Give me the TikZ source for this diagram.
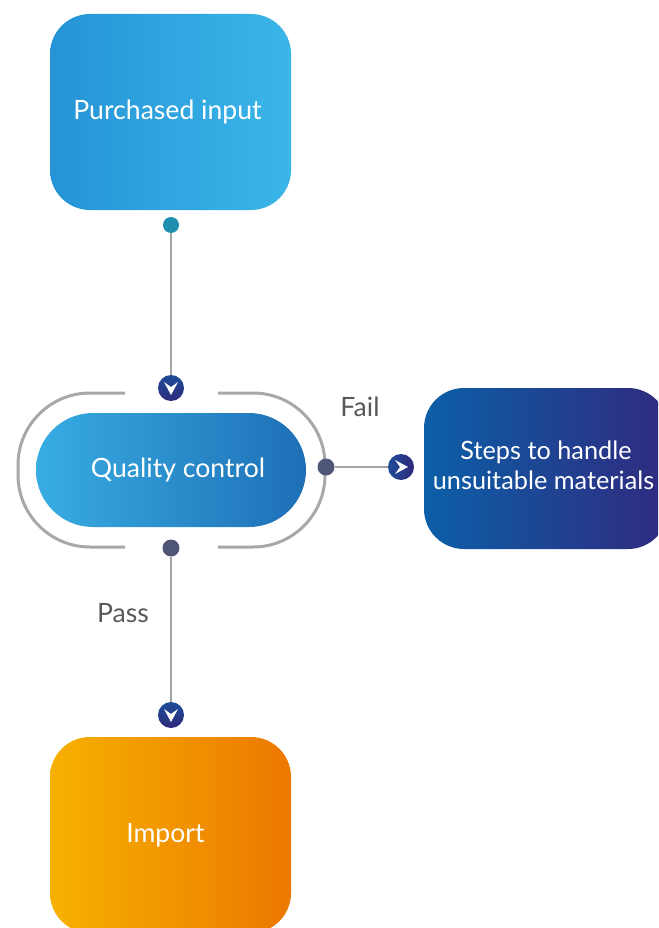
\documentclass[tikz,border=0pt]{standalone}
\usepackage{fontspec}
\setmainfont{Lato}
\definecolor{piL}{HTML}{2593D6}
\definecolor{piR}{HTML}{3BB6E9}
\definecolor{qcL}{HTML}{38ADE3}
\definecolor{qcR}{HTML}{1E6FB6}
\definecolor{stL}{HTML}{0C5FA8}
\definecolor{stR}{HTML}{302A7E}
\definecolor{imL}{HTML}{F6B100}
\definecolor{imR}{HTML}{EC7800}
\definecolor{tealdot}{HTML}{1F8FB0}
\definecolor{darkdot}{HTML}{4F5577}
\definecolor{lineg}{HTML}{A4A4A4}
\definecolor{bracketg}{HTML}{A8A8A8}
\definecolor{navyA}{HTML}{1E4C98}
\definecolor{navyB}{HTML}{2E2A7A}
\definecolor{labelg}{HTML}{58595B}
\begin{document}
\begin{tikzpicture}[x=1pt,y=-1pt,
  box/.style={rounded corners=40pt, text=white, align=center, inner sep=0pt,
    font=\fontsize{26.6}{32}\selectfont},
  dotn/.style={circle, inner sep=0pt, minimum size=17pt},
  arrdown/.style={circle, inner sep=0pt, minimum size=26pt, top color=navyA, bottom color=navyB,
    path picture={\fill[white, shift={(path picture bounding box.center)}]
      (-7,-6) -- (0,7) -- (7,-6) -- (0,-1) -- cycle;}},
  arrright/.style={circle, inner sep=0pt, minimum size=26pt, left color=navyA, right color=navyB,
    path picture={\fill[white, shift={(path picture bounding box.center)}]
      (-6,-7) -- (7,0) -- (-6,7) -- (-1,0) -- cycle;}},
  conn/.style={draw=lineg, line width=2pt},
  bracket/.style={draw=bracketg, line width=3pt, rounded corners=72pt},
  lbl/.style={text=labelg, font=\fontsize{26.6}{32}\selectfont, inner sep=0pt}]
\useasboundingbox (0,0) rectangle (658,928);
\clip (0,0) rectangle (658,928);

% bracket around quality control
\draw[bracket] (125,393) -- (18,393) -- (18,547) -- (125,547);
\draw[bracket] (218,393) -- (325,393) -- (325,547) -- (218,547);

% boxes
\node[box, minimum width=241pt, minimum height=196pt, left color=piL, right color=piR]
  (pi) at (170.5,112) {\raisebox{2pt}{Purchased input\kern6pt}};
\node[box, rounded corners=57pt, minimum width=270pt, minimum height=114pt, left color=qcL, right color=qcR]
  (qc) at (171,470) {\raisebox{2pt}{\kern14pt Quality control}};
\node[box, minimum width=244pt, minimum height=161pt, left color=stL, right color=stR,
  font=\fontsize{25.3}{30}\selectfont]
  (st) at (546,468.5) {\raisebox{3pt}{\begin{tabular}{@{}c@{}}Steps to handle\\unsuitable materials\kern5pt\end{tabular}}};
\node[box, minimum width=241pt, minimum height=196pt, left color=imL, right color=imR]
  (im) at (170.5,835) {\raisebox{2pt}{Import\kern10pt}};

% dots and arrow heads
\node[dotn, fill=tealdot, minimum size=16pt] (d1) at (171,225) {};
\node[arrdown] (a1) at (171,388) {};
\node[dotn, fill=darkdot] (d2) at (326,467) {};
\node[arrright] (a2) at (401,467) {};
\node[dotn, fill=darkdot] (d3) at (171,548) {};
\node[arrdown] (a3) at (171,715) {};

% connectors
\draw[conn] (d1) -- (a1);
\draw[conn] (d2) -- (a2);
\draw[conn] (d3) -- (a3);

% labels
\node[lbl] (fail) at (360,407) {Fail};
\node[lbl] (pass) at (123,613) {Pass};
\end{tikzpicture}
\end{document}
